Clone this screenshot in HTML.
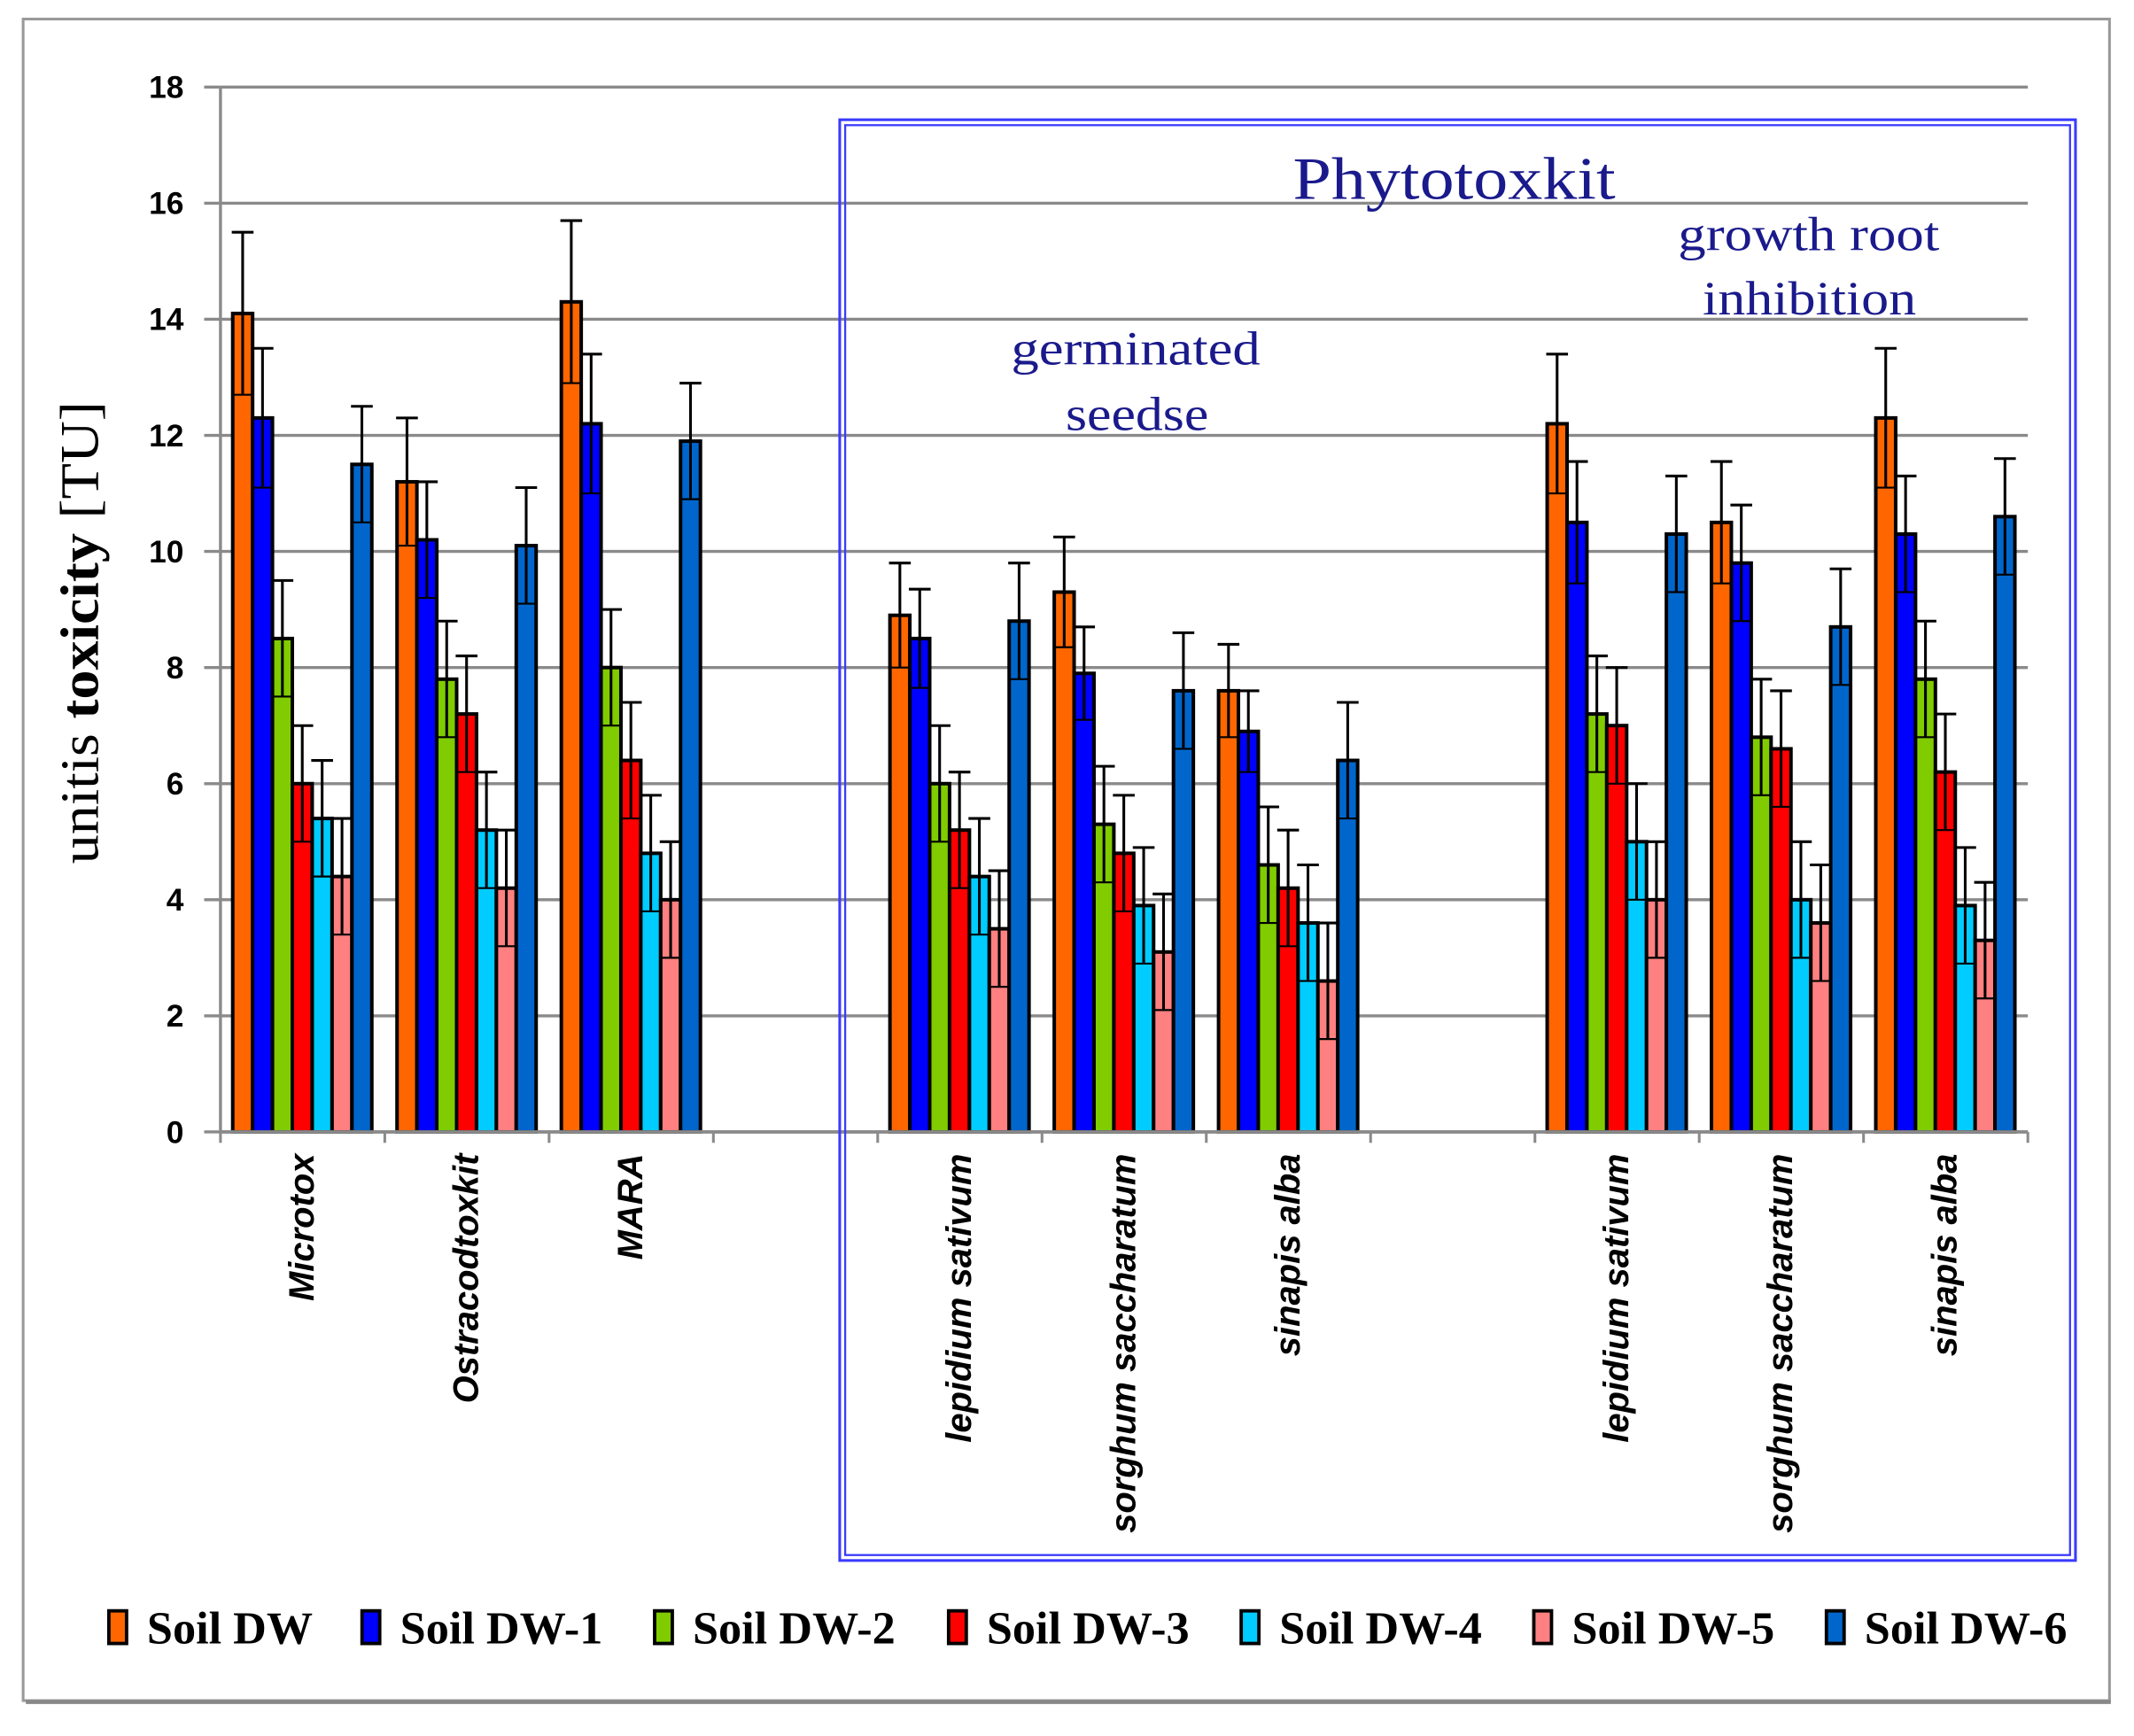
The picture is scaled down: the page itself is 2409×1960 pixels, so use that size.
<!DOCTYPE html>
<html><head><meta charset="utf-8"><style>
html,body{margin:0;padding:0;background:#fff;}
svg{display:block;}
</style></head><body>
<svg id="chart" width="2409" height="1960" viewBox="0 0 1568 1276" preserveAspectRatio="none" xmlns="http://www.w3.org/2000/svg">
<rect x="17" y="14" width="1533" height="1236" fill="#fff" stroke="#999" stroke-width="2"/>
<line x1="19" y1="1251" x2="1551" y2="1251" stroke="#888" stroke-width="3"/>
<g id="grid"></g>
<g id="bars"></g>
<g id="axes"></g>
<g>
<rect x="617" y="88" width="908" height="1059" fill="none" stroke="#3b3bff" stroke-width="2"/>
<rect x="621" y="92" width="900" height="1051" fill="none" stroke="#3b3bff" stroke-width="1.5"/>
<text x="950" y="146" textLength="237" lengthAdjust="spacingAndGlyphs" font-family="Liberation Serif, serif" font-size="44" fill="#1a1a8c">Phytotoxkit</text>
<text x="743" y="268" textLength="183" lengthAdjust="spacingAndGlyphs" font-family="Liberation Serif, serif" font-size="35" fill="#1a1a8c">germinated</text>
<text x="783" y="316" textLength="105" lengthAdjust="spacingAndGlyphs" font-family="Liberation Serif, serif" font-size="35" fill="#1a1a8c">seedse</text>
<text x="1233" y="184" textLength="192" lengthAdjust="spacingAndGlyphs" font-family="Liberation Serif, serif" font-size="35" fill="#1a1a8c">growth root</text>
<text x="1251" y="231" textLength="157" lengthAdjust="spacingAndGlyphs" font-family="Liberation Serif, serif" font-size="35" fill="#1a1a8c">inhibition</text>
</g>
<text transform="translate(72,635) rotate(-90)" textLength="340" lengthAdjust="spacingAndGlyphs" font-family="Liberation Serif, serif" font-size="40" fill="#000">unitis <tspan font-weight="bold">toxicity</tspan>  [TU]</text>
<g id="legend"></g>
</svg>
<script>
const categories = ["Microtox","Ostracodtoxkit","MARA","","lepidium sativum","sorghum saccharatum","sinapis alba","","lepidium sativum","sorghum saccharatum","sinapis alba"];
const seriesNames = ["Soil DW","Soil DW-1","Soil DW-2","Soil DW-3","Soil DW-4","Soil DW-5","Soil DW-6"];
const seriesColors = ["#ff6600","#0000ff","#80cc00","#ff0000","#00ccff","#ff8080","#0066cc"];
const soilDW  = [14.1,11.2,14.3,null,8.9,9.3,7.6,null,12.2,10.5,12.3];
const soilDW1 = [12.3,10.2,12.2,null,8.5,7.9,6.9,null,10.5,9.8,10.3];
const soilDW2 = [8.5,7.8,8.0,null,6.0,5.3,4.6,null,7.2,6.8,7.8];
const soilDW3 = [6.0,7.2,6.4,null,5.2,4.8,4.2,null,7.0,6.6,6.2];
const soilDW4 = [5.4,5.2,4.8,null,4.4,3.9,3.6,null,5.0,4.0,3.9];
const soilDW5 = [4.4,4.2,4.0,null,3.5,3.1,2.6,null,4.0,3.6,3.3];
const soilDW6 = [11.5,10.1,11.9,null,8.8,7.6,6.4,null,10.3,8.7,10.6];
const errDW  = [1.4,1.1,1.4,null,0.9,0.95,0.8,null,1.2,1.05,1.2];
const errDW1 = [1.2,1.0,1.2,null,0.85,0.8,0.7,null,1.05,1.0,1.0];
const errDW2 = [1.0,1.0,1.0,null,1.0,1.0,1.0,null,1.0,1.0,1.0];
const errDW3 = [1.0,1.0,1.0,null,1.0,1.0,1.0,null,1.0,1.0,1.0];
const errDW4 = [1.0,1.0,1.0,null,1.0,1.0,1.0,null,1.0,1.0,1.0];
const errDW5 = [1.0,1.0,1.0,null,1.0,1.0,1.0,null,1.0,1.0,1.0];
const errDW6 = [1.0,1.0,1.0,null,1.0,1.0,1.0,null,1.0,1.0,1.0];
const yTicks = [0,2,4,6,8,10,12,14,16,18];

const series = [soilDW,soilDW1,soilDW2,soilDW3,soilDW4,soilDW5,soilDW6];
const errs = [errDW,errDW1,errDW2,errDW3,errDW4,errDW5,errDW6];
const NS = "http://www.w3.org/2000/svg";
const X0 = 162, X1 = 1490, Y0 = 832, Y1 = 64, YMAX = 18;
const slotW = (X1 - X0) / categories.length;
const barW = 14.6, barOff = 9;
function y(v){ return Y0 - (v / YMAX) * (Y0 - Y1); }
function slotX(i){ return X0 + i * slotW; }
function el(tag, attrs, parent){ const e = document.createElementNS(NS, tag); for (const k in attrs) e.setAttribute(k, attrs[k]); parent.appendChild(e); return e; }

const grid = document.getElementById('grid');
yTicks.forEach(t => {
  const g = el('line', {x1: X0 - 12, x2: X1, y1: y(t), y2: y(t), stroke: '#8a8a8a', 'stroke-width': 2.2}, grid);
  
  
  const lbl = el('text', {x: 135, y: y(t) + 8, 'text-anchor': 'end', 'font-family': 'Liberation Sans, sans-serif', 'font-weight': 'bold', 'font-size': 23, fill: '#000'}, grid);
  lbl.textContent = t;
  
  
});

const bars = document.getElementById('bars');
categories.forEach((c, i) => {
  series.forEach((s, j) => {
    const v = s[i];
    if (v == null) return;
    const bx = slotX(i) + barOff + j * barW;
    const r = el('rect', {x: bx, y: y(v), width: barW, height: y(0) - y(v), fill: seriesColors[j], stroke: '#000', 'stroke-width': 2.6}, bars);
    
    
    const e = errs[j][i];
    const cx = bx + barW / 2;
    const eb = el('line', {x1: cx, x2: cx, y1: y(v + e), y2: y(v - e), stroke: '#000', 'stroke-width': 2}, bars);
    
    
    el('line', {x1: cx - 8, x2: cx + 8, y1: y(v + e), y2: y(v + e), stroke: '#000', 'stroke-width': 2}, bars);
    el('line', {x1: bx, x2: bx + barW, y1: y(v - e), y2: y(v - e), stroke: '#000', 'stroke-width': 1.4}, bars);
  });
});

const axes = document.getElementById('axes');
el('line', {x1: X0, x2: X0, y1: Y1, y2: Y0, stroke: '#8a8a8a', 'stroke-width': 2.2}, axes);
el('line', {x1: X0, x2: X1, y1: Y0, y2: Y0, stroke: '#8a8a8a', 'stroke-width': 2.5}, axes);
for (let i = 0; i <= categories.length; i++) {
  el('line', {x1: slotX(i), x2: slotX(i), y1: Y0, y2: Y0 + 8, stroke: '#8a8a8a', 'stroke-width': 2}, axes);
}
categories.forEach((c, i) => {
  if (!c) return;
  const cx = slotX(i) + slotW / 2 + 8;
  const t = el('text', {transform: 'translate(' + cx + ',848) rotate(-90)', 'text-anchor': 'end', 'font-family': 'Liberation Sans, sans-serif', 'font-weight': 'bold', 'font-style': 'italic', 'font-size': 26, fill: '#000'}, axes);
  t.textContent = c;
  
  
});

const legend = document.getElementById('legend');
const legX = [80, 266, 481, 697, 912, 1127, 1342];
seriesNames.forEach((n, j) => {
  const g = el('g', {}, legend);
  
  
  el('rect', {x: legX[j], y: 1184, width: 13, height: 24, fill: seriesColors[j], stroke: '#000', 'stroke-width': 2.5}, g);
  const t = el('text', {x: legX[j] + 28, y: 1208, 'font-family': 'Liberation Serif, serif', 'font-weight': 'bold', 'font-size': 34, fill: '#000'}, g);
  t.textContent = n;
});
</script>
</body></html>
